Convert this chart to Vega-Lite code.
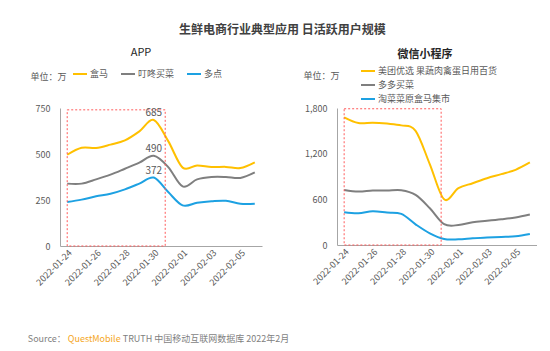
{
  "$schema": "https://vega.github.io/schema/vega-lite/v6.json",
  "background": "white",
  "padding": {"left": 27, "top": 24, "right": 0, "bottom": 0},
  "title": {"text": "生鲜电商行业典型应用 日活跃用户规模", "fontSize": 12, "fontWeight": "bold", "color": "#404040", "anchor": "middle", "offset": 10},
  "datasets": {
    "app": [
      {"date": "2022-01-24", "series": "盒马", "value": 496},
      {"date": "2022-01-25", "series": "盒马", "value": 534},
      {"date": "2022-01-26", "series": "盒马", "value": 533},
      {"date": "2022-01-27", "series": "盒马", "value": 551},
      {"date": "2022-01-28", "series": "盒马", "value": 574},
      {"date": "2022-01-29", "series": "盒马", "value": 623},
      {"date": "2022-01-30", "series": "盒马", "value": 685},
      {"date": "2022-01-31", "series": "盒马", "value": 570},
      {"date": "2022-02-01", "series": "盒马", "value": 426},
      {"date": "2022-02-02", "series": "盒马", "value": 438},
      {"date": "2022-02-03", "series": "盒马", "value": 429},
      {"date": "2022-02-04", "series": "盒马", "value": 430},
      {"date": "2022-02-05", "series": "盒马", "value": 424},
      {"date": "2022-02-06", "series": "盒马", "value": 455},
      {"date": "2022-01-24", "series": "叮咚买菜", "value": 339},
      {"date": "2022-01-25", "series": "叮咚买菜", "value": 339},
      {"date": "2022-01-26", "series": "叮咚买菜", "value": 362},
      {"date": "2022-01-27", "series": "叮咚买菜", "value": 388},
      {"date": "2022-01-28", "series": "叮咚买菜", "value": 420},
      {"date": "2022-01-29", "series": "叮咚买菜", "value": 453},
      {"date": "2022-01-30", "series": "叮咚买菜", "value": 490},
      {"date": "2022-01-31", "series": "叮咚买菜", "value": 429},
      {"date": "2022-02-01", "series": "叮咚买菜", "value": 324},
      {"date": "2022-02-02", "series": "叮咚买菜", "value": 362},
      {"date": "2022-02-03", "series": "叮咚买菜", "value": 375},
      {"date": "2022-02-04", "series": "叮咚买菜", "value": 375},
      {"date": "2022-02-05", "series": "叮咚买菜", "value": 370},
      {"date": "2022-02-06", "series": "叮咚买菜", "value": 400},
      {"date": "2022-01-24", "series": "多点", "value": 239},
      {"date": "2022-01-25", "series": "多点", "value": 252},
      {"date": "2022-01-26", "series": "多点", "value": 270},
      {"date": "2022-01-27", "series": "多点", "value": 284},
      {"date": "2022-01-28", "series": "多点", "value": 308},
      {"date": "2022-01-29", "series": "多点", "value": 339},
      {"date": "2022-01-30", "series": "多点", "value": 372},
      {"date": "2022-01-31", "series": "多点", "value": 293},
      {"date": "2022-02-01", "series": "多点", "value": 221},
      {"date": "2022-02-02", "series": "多点", "value": 235},
      {"date": "2022-02-03", "series": "多点", "value": 243},
      {"date": "2022-02-04", "series": "多点", "value": 246},
      {"date": "2022-02-05", "series": "多点", "value": 230},
      {"date": "2022-02-06", "series": "多点", "value": 230}
    ],
    "wx": [
      {"date": "2022-01-24", "series": "美团优选 果蔬肉禽蛋日用百货", "value": 1677},
      {"date": "2022-01-25", "series": "美团优选 果蔬肉禽蛋日用百货", "value": 1602},
      {"date": "2022-01-26", "series": "美团优选 果蔬肉禽蛋日用百货", "value": 1607},
      {"date": "2022-01-27", "series": "美团优选 果蔬肉禽蛋日用百货", "value": 1595},
      {"date": "2022-01-28", "series": "美团优选 果蔬肉禽蛋日用百货", "value": 1572},
      {"date": "2022-01-29", "series": "美团优选 果蔬肉禽蛋日用百货", "value": 1500},
      {"date": "2022-01-30", "series": "美团优选 果蔬肉禽蛋日用百货", "value": 1060},
      {"date": "2022-01-31", "series": "美团优选 果蔬肉禽蛋日用百货", "value": 600},
      {"date": "2022-02-01", "series": "美团优选 果蔬肉禽蛋日用百货", "value": 746},
      {"date": "2022-02-02", "series": "美团优选 果蔬肉禽蛋日用百货", "value": 812},
      {"date": "2022-02-03", "series": "美团优选 果蔬肉禽蛋日用百货", "value": 878},
      {"date": "2022-02-04", "series": "美团优选 果蔬肉禽蛋日用百货", "value": 931},
      {"date": "2022-02-05", "series": "美团优选 果蔬肉禽蛋日用百货", "value": 988},
      {"date": "2022-02-06", "series": "美团优选 果蔬肉禽蛋日用百货", "value": 1084},
      {"date": "2022-01-24", "series": "多多买菜", "value": 724},
      {"date": "2022-01-25", "series": "多多买菜", "value": 702},
      {"date": "2022-01-26", "series": "多多买菜", "value": 716},
      {"date": "2022-01-27", "series": "多多买菜", "value": 716},
      {"date": "2022-01-28", "series": "多多买菜", "value": 720},
      {"date": "2022-01-29", "series": "多多买菜", "value": 658},
      {"date": "2022-01-30", "series": "多多买菜", "value": 483},
      {"date": "2022-01-31", "series": "多多买菜", "value": 275},
      {"date": "2022-02-01", "series": "多多买菜", "value": 262},
      {"date": "2022-02-02", "series": "多多买菜", "value": 300},
      {"date": "2022-02-03", "series": "多多买菜", "value": 318},
      {"date": "2022-02-04", "series": "多多买菜", "value": 338},
      {"date": "2022-02-05", "series": "多多买菜", "value": 362},
      {"date": "2022-02-06", "series": "多多买菜", "value": 400},
      {"date": "2022-01-24", "series": "淘菜菜原盒马集市", "value": 430},
      {"date": "2022-01-25", "series": "淘菜菜原盒马集市", "value": 417},
      {"date": "2022-01-26", "series": "淘菜菜原盒马集市", "value": 443},
      {"date": "2022-01-27", "series": "淘菜菜原盒马集市", "value": 426},
      {"date": "2022-01-28", "series": "淘菜菜原盒马集市", "value": 408},
      {"date": "2022-01-29", "series": "淘菜菜原盒马集市", "value": 272},
      {"date": "2022-01-30", "series": "淘菜菜原盒马集市", "value": 154},
      {"date": "2022-01-31", "series": "淘菜菜原盒马集市", "value": 79},
      {"date": "2022-02-01", "series": "淘菜菜原盒马集市", "value": 75},
      {"date": "2022-02-02", "series": "淘菜菜原盒马集市", "value": 88},
      {"date": "2022-02-03", "series": "淘菜菜原盒马集市", "value": 97},
      {"date": "2022-02-04", "series": "淘菜菜原盒马集市", "value": 105},
      {"date": "2022-02-05", "series": "淘菜菜原盒马集市", "value": 114},
      {"date": "2022-02-06", "series": "淘菜菜原盒马集市", "value": 145}
    ]
  },
  "vconcat": [
    {
      "hconcat": [
        {
          "width": 202,
          "height": 138,
          "title": {"text": "APP", "fontSize": 11, "fontWeight": "normal", "color": "#262626", "anchor": "middle", "dx": -20, "offset": 8},
          "layer": [
            {
              "data": {"name": "app"},
              "mark": {"type": "line", "interpolate": "cardinal", "strokeWidth": 2},
              "encoding": {
                "x": {"field": "date", "type": "ordinal",
                  "scale": {"type": "point", "padding": 0.5, "domain": ["2022-01-24", "2022-01-25", "2022-01-26", "2022-01-27", "2022-01-28", "2022-01-29", "2022-01-30", "2022-01-31", "2022-02-01", "2022-02-02", "2022-02-03", "2022-02-04", "2022-02-05", "2022-02-06"]},
                  "axis": {"title": null, "labelAngle": -45, "labelAlign": "right", "labelBaseline": "top", "grid": false, "ticks": false, "labelOverlap": false,
                    "values": ["2022-01-24", "2022-01-26", "2022-01-28", "2022-01-30", "2022-02-01", "2022-02-03", "2022-02-05"]}},
                "y": {"field": "value", "type": "quantitative",
                  "scale": {"domain": [0, 750], "nice": false},
                  "axis": {"values": [0, 250, 500, 750], "format": ",d", "grid": false, "ticks": false, "labelPadding": 10,
                    "title": "单位：万", "titleAngle": 0, "titleAlign": "left", "titleBaseline": "middle", "titleX": -30, "titleY": -32}},
                "color": {"field": "series", "type": "nominal",
                  "scale": {"domain": ["盒马", "叮咚买菜", "多点"], "range": ["#FFC000", "#7F7F7F", "#1DA1E2"]},
                  "legend": {"orient": "none", "legendX": 12, "legendY": -42, "direction": "horizontal", "title": null, "columnPadding": 8}}
              }
            },
            {
              "data": {"values": [{"start": "2022-01-24", "end": "2022-01-31", "top": 740, "bottom": 0}]},
              "mark": {"type": "rect", "fill": null, "stroke": "#FF5A5A", "strokeWidth": 1, "strokeDash": [2, 2], "x2Offset": -3},
              "encoding": {
                "x": {"field": "start", "type": "ordinal"},
                "x2": {"field": "end"},
                "y": {"field": "top", "type": "quantitative"},
                "y2": {"field": "bottom"}
              }
            },
            {
              "data": {"name": "app"},
              "transform": [{"filter": "datum.value == 685 || datum.value == 490 || datum.value == 372"}],
              "mark": {"type": "text", "baseline": "alphabetic", "dy": -4, "fontSize": 10, "color": "#595959"},
              "encoding": {
                "x": {"field": "date", "type": "ordinal"},
                "y": {"field": "value", "type": "quantitative"},
                "text": {"field": "value", "type": "quantitative"}
              }
            }
          ]
        },
        {
          "width": 200,
          "height": 137,
          "title": {"text": "微信小程序", "fontSize": 11, "fontWeight": "bold", "color": "#262626", "anchor": "middle", "dx": -12, "offset": 3},
          "layer": [
            {
              "data": {"name": "wx"},
              "mark": {"type": "line", "interpolate": "cardinal", "strokeWidth": 2},
              "encoding": {
                "x": {"field": "date", "type": "ordinal",
                  "scale": {"type": "point", "padding": 0.5, "domain": ["2022-01-24", "2022-01-25", "2022-01-26", "2022-01-27", "2022-01-28", "2022-01-29", "2022-01-30", "2022-01-31", "2022-02-01", "2022-02-02", "2022-02-03", "2022-02-04", "2022-02-05", "2022-02-06"]},
                  "axis": {"title": null, "labelAngle": -45, "labelAlign": "right", "labelBaseline": "top", "grid": false, "ticks": false, "labelOverlap": false,
                    "values": ["2022-01-24", "2022-01-26", "2022-01-28", "2022-01-30", "2022-02-01", "2022-02-03", "2022-02-05"]}},
                "y": {"field": "value", "type": "quantitative",
                  "scale": {"domain": [0, 1800], "nice": false},
                  "axis": {"values": [0, 600, 1200, 1800], "format": ",d", "grid": false, "ticks": false, "labelPadding": 10,
                    "title": "单位：万", "titleAngle": 0, "titleAlign": "left", "titleBaseline": "middle", "titleX": -34, "titleY": -33}},
                "color": {"field": "series", "type": "nominal",
                  "scale": {"domain": ["美团优选 果蔬肉禽蛋日用百货", "多多买菜", "淘菜菜原盒马集市"], "range": ["#FFC000", "#7F7F7F", "#1DA1E2"]},
                  "legend": {"orient": "none", "legendX": 23, "legendY": -45, "direction": "vertical", "title": null, "rowPadding": 1}}
              }
            },
            {
              "data": {"values": [{"start": "2022-01-24", "end": "2022-01-31", "top": 1790, "bottom": 0}]},
              "mark": {"type": "rect", "fill": null, "stroke": "#FF5A5A", "strokeWidth": 1, "strokeDash": [2, 2], "x2Offset": -3},
              "encoding": {
                "x": {"field": "start", "type": "ordinal"},
                "x2": {"field": "end"},
                "y": {"field": "top", "type": "quantitative"},
                "y2": {"field": "bottom"}
              }
            }
          ]
        }
      ],
      "spacing": 75,
      "bounds": "flush",
      "resolve": {"scale": {"color": "independent", "x": "independent", "y": "independent"}}
    },
    {
      "hconcat": [
        {"data": {"values": [{}]}, "mark": {"type": "point", "opacity": 0}, "width": 1, "height": 1,
         "title": {"text": "Source：", "color": "#7F7F7F", "fontSize": 9, "fontWeight": "normal", "anchor": "start", "offset": 0, "dx": -30}},
        {"data": {"values": [{}]}, "mark": {"type": "point", "opacity": 0}, "width": 1, "height": 1,
         "title": {"text": "QuestMobile", "color": "#F5A623", "fontSize": 9, "fontWeight": "normal", "anchor": "start", "offset": 0, "dx": -30}},
        {"data": {"values": [{}]}, "mark": {"type": "point", "opacity": 0}, "width": 1, "height": 1,
         "title": {"text": "TRUTH 中国移动互联网数据库 2022年2月", "color": "#7F7F7F", "fontSize": 9, "fontWeight": "normal", "anchor": "start", "offset": 0, "dx": -30}}
      ],
      "spacing": 1,
      "bounds": "full"
    }
  ],
  "spacing": 46,
  "bounds": "full",
  "config": {
    "font": "Noto Sans CJK SC",
    "view": {"stroke": null},
    "axis": {"labelFontSize": 9, "labelColor": "#595959", "domainColor": "#A6A6A6", "titleFontSize": 9, "titleColor": "#595959", "titleFontWeight": "normal"},
    "legend": {"labelFontSize": 9, "labelColor": "#595959", "symbolType": "stroke", "symbolSize": 196, "symbolStrokeWidth": 2, "labelOffset": 2, "rowPadding": 0}
  }
}
